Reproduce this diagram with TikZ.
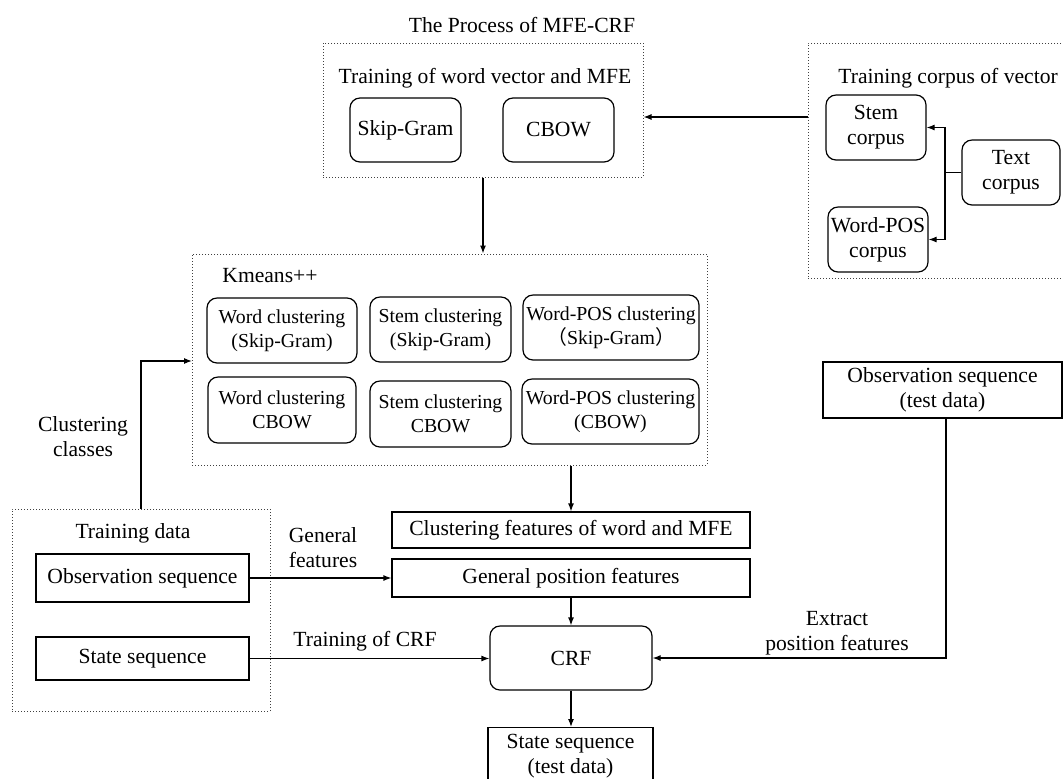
\documentclass[tikz,border=0pt]{standalone}
\usepackage{fontspec}
\setmainfont{Liberation Serif}
\newfontfamily\cjk{Noto Sans CJK SC}
\usetikzlibrary{arrows.meta}
\begin{document}
\begin{tikzpicture}[x=0.5pt,y=-0.5pt,
 every node/.style={font=\fontsize{10.8}{12.5}\selectfont, inner sep=0pt, align=center},
 rbox/.style={draw, rounded corners=5pt, line width=0.6pt},
 sbox/.style={draw, line width=0.6pt},
 dbox/.style={draw=black!75, dash pattern=on 0.5pt off 1pt, line width=0.5pt},
 arr/.style={-{Latex[length=4pt,width=3pt]}, line width=0.6pt},
 ln/.style={line width=0.6pt},
 cl/.style={rbox, font=\fontsize{9.9}{12}\selectfont}
]
\useasboundingbox (0,0) rectangle (1063,778);
\clip (0,0) rectangle (1063,778);
\fill[white] (0,0) rectangle (1063,778);

% title
\node (title) at (522,25) {The Process of MFE-CRF};

% training of word vector
\node[dbox, minimum width=160pt, minimum height=67pt] (b1) at (483,110) {};
\node (b1t) at (485,78) {Training of word vector and MFE};
\node[rbox, minimum width=55.5pt, minimum height=32pt] (skip) at (405.5,130) {Skip-Gram};
\node[rbox, minimum width=55.5pt, minimum height=32pt] (cbow) at (558.5,130) {CBOW};

% training corpus
\node[dbox, minimum width=133.5pt, minimum height=117.5pt] (b2) at (941.5,160.5) {};
\node[anchor=west] (b2t) at (838,78) {Training corpus of vector};
\node[rbox, minimum width=50pt, minimum height=32.5pt] (stem) at (876,127.5) {Stem\\corpus};
\node[rbox, minimum width=50pt, minimum height=32.5pt] (wpos) at (878,239.5) {Word-POS\\corpus};
\node[rbox, minimum width=49pt, minimum height=32.5pt] (txt) at (1011,172.5) {Text\\corpus};
\coordinate (j) at (945,172.5);
\draw[ln] (txt.west) -- (j);
\draw[arr] (j) |- (stem.east);
\draw[arr] (j) |- (wpos.east);
\coordinate (a1) at (808,117);
\draw[arr] (a1) -- (a1 -| b1.east);

% kmeans
\node[dbox, minimum width=257.5pt, minimum height=105.5pt] (b3) at (449.5,359.5) {};
\node[anchor=west] (km) at (222,276) {Kmeans++};
\node[cl, minimum width=75pt, minimum height=32.5pt] (c11) at (282,330.5) {Word clustering\\(Skip-Gram)};
\node[cl, minimum width=70.5pt, minimum height=32.5pt] (c12) at (440.5,329.5) {Stem clustering\\(Skip-Gram)};
\node[cl, minimum width=88pt, minimum height=32.5pt] (c13) at (611,327.5) {Word-POS clustering\\{\cjk （}Skip-Gram{\cjk ）}};
\node[cl, minimum width=74pt, minimum height=33pt] (c21) at (282,410) {Word clustering\\CBOW};
\node[cl, minimum width=70.5pt, minimum height=33pt] (c22) at (440.5,414) {Stem clustering\\CBOW};
\node[cl, minimum width=88.5pt, minimum height=32.5pt] (c23) at (610.5,411.5) {Word-POS clustering\\(CBOW)};
\draw[arr] (b1.south) -- (b1.south |- b3.north);

% features
\node[sbox, minimum width=179pt, minimum height=18pt] (cf) at (571,530) {Clustering features of word and MFE};
\node[sbox, minimum width=179pt, minimum height=19pt] (gp) at (571,578) {General position features};
\draw[arr] (cf.north |- b3.south) -- (cf.north);

% CRF
\node[rbox, minimum width=81pt, minimum height=32pt] (crf) at (571,658) {CRF};
\node[sbox, anchor=north, minimum width=82.5pt, minimum height=29pt] (sst) at (570.5,727) {State sequence\\(test data)};
\draw[arr] (gp.south) -- (gp.south |- crf.north);
\draw[arr] (crf.south) -- (crf.south |- sst.north);

% training data
\node[dbox, minimum width=129pt, minimum height=101pt] (td) at (141,610) {};
\node (tdt) at (133,533) {Training data};
\node[sbox, minimum width=106.5pt, minimum height=24pt] (obs) at (142.5,578) {Observation sequence};
\node[sbox, minimum width=106.5pt, minimum height=21.5pt] (st) at (142.5,658.5) {State sequence};
\coordinate (kin) at (192,361);
\draw[arr] (td.north) |- (kin);
\node (cc) at (83,437) {Clustering\\classes};
\draw[arr] (obs.east) -- (obs.east -| gp.west);
\node (gf) at (323,548) {General\\features};
\draw[arr] (st.east) -- (st.east -| crf.west);
\node (tc) at (365,641) {Training of CRF};

% test data
\node[sbox, minimum width=119.5pt, minimum height=28pt] (ot) at (942.5,390) {Observation sequence\\(test data)};
\coordinate (ex) at (946,658);
\draw[arr] (ex |- ot.south) -- (ex) -- (crf.east);
\node (ep) at (837,633) {Extract\\position features};
\end{tikzpicture}
\end{document}
